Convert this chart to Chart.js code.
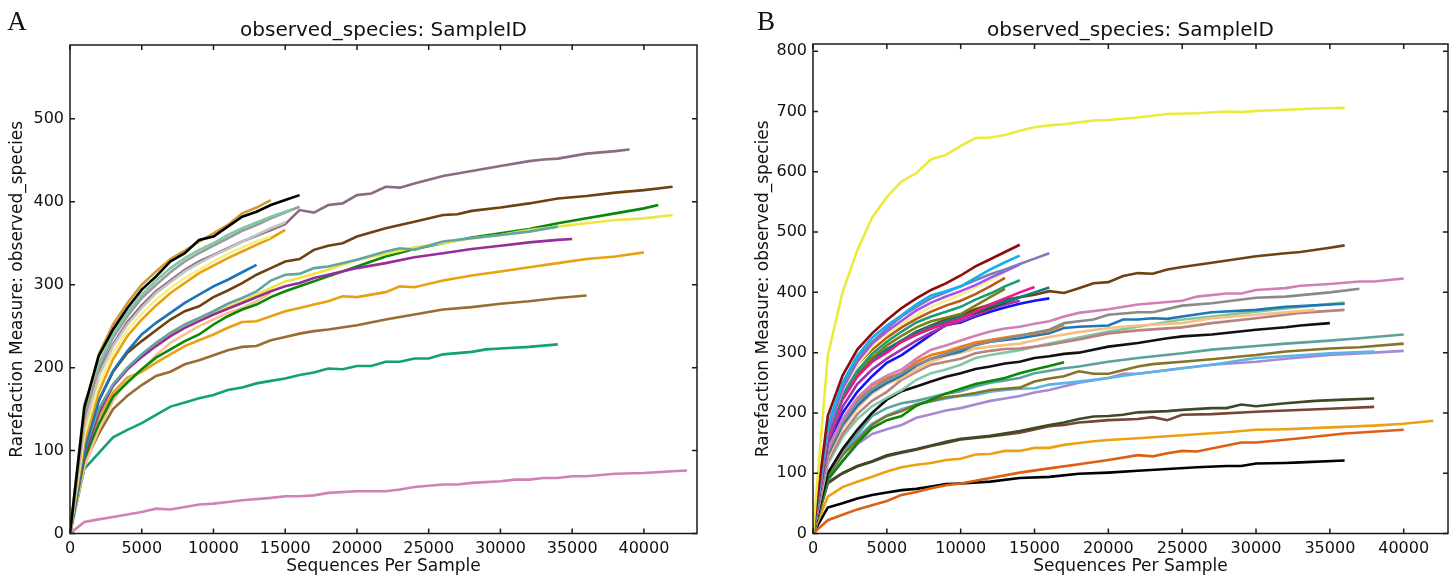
<!DOCTYPE html>
<html>
<head>
<meta charset="utf-8">
<script src="https://cdn.jsdelivr.net/npm/chart.js@4.4.1/dist/chart.umd.min.js"></script>
<style>
    html, body { margin: 0; padding: 0; background: #fff; }
    body { width: 1455px; height: 577px; position: relative; overflow: hidden; }
    .panel { position: absolute; top: 0; height: 577px; }
    #wrapA { left: 0; width: 727px; }
    #wrapB { left: 745px; width: 710px; }
</style>
</head>
<body>
<div class="panel" id="wrapA"><canvas id="chartA" width="727" height="577"></canvas></div>
<div class="panel" id="wrapB"><canvas id="chartB" width="710" height="577"></canvas></div>
<script>
// texts
const chartTitle = 'observed_species: SampleID';
const xLabel = 'Sequences Per Sample';
const yLabel = 'Rarefaction Measure: observed_species';

// tick values
const xTicks = [0, 5000, 10000, 15000, 20000, 25000, 30000, 35000, 40000];
const yTicksA = [0, 100, 200, 300, 400, 500];
const yTicksB = [0, 100, 200, 300, 400, 500, 600, 700, 800];

// each point: [sequences per sample in thousands, observed species]

// ---- panel A ----
const a_black = [[0,0],[1,152],[2,214],[3,246],[4,272],[5,294],[6,310],[7,328],[8,338],[9,354],[10,358],[11,370],[12,382],[13,388],[14,396],[15,402],[16,408]];
const a_gold = [[0,0],[1,148],[2,216],[3,252],[4,278],[5,300],[6,316],[7,331],[8,341],[9,352],[10,362],[11,372],[12,386],[13,393],[14,402]];
const a_aqua = [[0,0],[1,156],[2,205],[3,240],[4,266],[5,288],[6,305],[7,320],[8,332],[9,342],[10,350],[11,360],[12,368],[13,375],[14,382],[15,388],[15.5,391]];
const a_gray = [[0,0],[1,140],[2,200],[3,236],[4,262],[5,284],[6,300],[7,315],[8,328],[9,338],[10,347],[11,356],[12,365],[13,372],[14,380],[15,387],[16,394]];
const a_lightgray = [[0,0],[1,128],[2,190],[3,226],[4,252],[5,272],[6,290],[7,303],[8,316],[9,326],[10,335],[11,343],[12,352],[13,360],[14,368],[15,375]];
const a_mauve = [[0,0],[1,135],[2,195],[3,228],[4,255],[5,275],[6,292],[7,305],[8,318],[9,328],[10,336],[11,344],[12,352],[13,359],[14,366],[15,373],[16,390],[17,387],[18,396],[19,398],[20,408],[21,410],[22,418],[23,417],[24,422],[26,431],[28,437],[30,443],[32,449],[33,451],[34,452],[36,458],[38,461],[39,463]];
const a_paleyellow = [[0,0],[1,118],[2,180],[3,218],[4,245],[5,265],[6,282],[7,296],[8,308],[9,318],[10,328],[11,337],[12,345],[13,352],[14,358]];
const a_orange1 = [[0,0],[1,110],[2,170],[3,210],[4,238],[5,258],[6,275],[7,290],[8,302],[9,314],[10,323],[11,332],[12,340],[13,348],[14,356],[15,366]];
const a_blue = [[0,0],[1,100],[2,160],[3,196],[4,220],[5,240],[6,254],[7,266],[8,278],[9,288],[10,298],[11,306],[12,315],[13,324]];
const a_darkbrown = [[0,0],[1,105],[2,160],[3,195],[4,218],[5,232],[6,245],[7,258],[8,268],[9,274],[10,285],[11,293],[12,302],[13,312],[14,320],[15,328],[16,331],[17,342],[18,347],[19,350],[20,358],[22,368],[24,376],[26,384],[27,385],[28,389],[30,393],[32,398],[34,404],[36,407],[38,411],[40,414],[42,418]];
const a_cadet = [[0,0],[1,100],[2,150],[3,180],[4,200],[5,216],[6,230],[7,242],[8,252],[9,260],[10,268],[11,277],[12,284],[13,292],[14,305],[15,312],[16,313],[17,320],[18,322],[20,330],[22,340],[23,344],[24,342],[26,352],[28,356],[30,360],[32,364],[34,370]];
const a_purple = [[0,0],[1,95],[2,145],[3,178],[4,198],[5,213],[6,226],[7,238],[8,248],[9,256],[10,264],[12,278],[14,292],[15,298],[16,302],[17,308],[18,312],[20,320],[22,326],[24,333],[26,338],[28,343],[30,347],[32,351],[34,354],[35,355]];
const a_yellow = [[0,0],[1,100],[2,150],[3,180],[4,200],[5,215],[6,230],[7,240],[8,250],[9,258],[10,266],[12,280],[14,296],[15,304],[16,308],[18,318],[20,330],[22,337],[24,345],[26,350],[28,356],[30,360],[32,366],[34,370],[36,374],[38,378],[40,380],[42,384]];
const a_green = [[0,0],[1,90],[2,132],[3,165],[4,182],[5,198],[6,212],[7,222],[8,232],[9,240],[10,252],[11,262],[12,270],[13,276],[14,285],[15,292],[16,298],[18,310],[20,322],[22,334],[24,343],[26,350],[28,357],[30,362],[32,367],[34,374],[36,380],[38,386],[40,392],[41,396]];
const a_peach = [[0,0],[1,80],[2,125],[3,160],[4,185],[5,197],[6,215],[7,230],[8,240],[9,250],[10,258],[11,266],[12,272],[13,280],[14,290]];
const a_orange2 = [[0,0],[1,95],[2,140],[3,170],[4,188],[5,195],[6,206],[7,216],[8,226],[9,233],[10,240],[11,248],[12,255],[13,256],[14,262],[15,268],[16,272],[17,276],[18,280],[19,286],[20,285],[22,291],[23,298],[24,297],[26,305],[28,311],[30,316],[32,321],[34,326],[36,331],[38,334],[40,339]];
const a_tan = [[0,0],[1,85],[2,120],[3,150],[4,166],[5,179],[6,190],[7,195],[8,204],[9,209],[10,215],[11,221],[12,225],[13,226],[14,233],[15,237],[16,241],[17,244],[18,246],[20,251],[22,258],[24,264],[26,270],[28,273],[30,277],[32,280],[34,284],[36,287]];
const a_teal = [[0,0],[1,78],[2,97],[3,116],[4,125],[5,133],[6,143],[7,153],[8,158],[9,163],[10,167],[11,173],[12,176],[13,181],[14,184],[15,187],[16,191],[17,194],[18,199],[19,198],[20,202],[21,202],[22,207],[23,207],[24,211],[25,211],[26,216],[28,219],[29,222],[30,223],[32,225],[34,228]];
const a_pink = [[0,0],[1,14],[2,17],[3,20],[4,23],[5,26],[6,30],[7,29],[8,32],[9,35],[10,36],[11,38],[12,40],[14,43],[15,45],[16,45],[17,46],[18,49],[20,51],[22,51],[23,53],[24,56],[26,59],[27,59],[28,61],[30,63],[31,65],[32,65],[33,67],[34,67],[35,69],[36,69],[38,72],[40,73],[42,75],[43,76]];

const seriesA = [a_black, a_gold, a_aqua, a_gray, a_lightgray, a_mauve, a_paleyellow, a_orange1, a_blue, a_darkbrown,
                 a_cadet, a_purple, a_yellow, a_green, a_peach, a_orange2, a_tan, a_teal, a_pink];
const coloursA = ['#000000', '#d09a35', '#80c8a2', '#9a9a9a', '#c4c4c4', '#8c6a84', '#f6f08a', '#e8a010', '#1a74b6', '#6e4210',
                  '#5fa5a3', '#982c98', '#eee640', '#0a870a', '#f6c28c', '#e9a012', '#9a6b35', '#12a079', '#d281b4'];

// ---- panel B ----
const b_yellow = [[0,0],[1,295],[2,400],[3,470],[4,524],[5,558],[6,584],[7,598],[8,621],[9,628],[10,643],[11,656],[12,657],[13,661],[14,668],[15,674],[16,677],[17,679],[18,682],[19,685],[20,686],[22,690],[24,696],[26,697],[28,700],[29,699],[30,701],[32,703],[34,705],[36,706]];
const b_darkred = [[0,0],[1,195],[2,262],[3,305],[4,332],[5,354],[6,374],[7,390],[8,404],[9,415],[10,428],[11,443],[12,455],[13,467],[14,479]];
const b_skyblue = [[0,0],[1,180],[2,250],[3,295],[4,325],[5,345],[6,362],[7,380],[8,395],[9,402],[10,410],[11,424],[12,438],[13,450],[14,461]];
const b_slate = [[0,0],[1,175],[2,245],[3,290],[4,318],[5,340],[6,360],[7,376],[8,390],[9,400],[10,410],[11,420],[12,430],[13,438],[14,447],[15,456],[16,465]];
const b_violet = [[0,0],[1,170],[2,240],[3,285],[4,315],[5,335],[6,353],[7,370],[8,383],[9,393],[10,402],[11,412],[12,424],[13,435],[14,446]];
const b_khaki = [[0,0],[1,172],[2,238],[3,280],[4,310],[5,330],[6,348],[7,362],[8,376],[9,386],[10,396],[11,408],[12,420],[13,433]];
const b_chocolate = [[0,0],[1,178],[2,240],[3,280],[4,305],[5,325],[6,342],[7,356],[8,368],[9,378],[10,386],[11,397],[12,410],[13,424]];
const b_teal = [[0,0],[1,165],[2,230],[3,270],[4,298],[5,318],[6,335],[7,350],[8,360],[9,368],[10,376],[11,388],[12,398],[13,410],[14,420]];
const b_olive = [[0,0],[1,168],[2,232],[3,268],[4,292],[5,312],[6,328],[7,342],[8,352],[9,358],[10,364],[11,378],[12,392],[13,406]];
const b_deeppink = [[0,0],[1,160],[2,222],[3,260],[4,285],[5,300],[6,318],[7,330],[8,340],[9,348],[10,356],[11,368],[12,380],[13,390],[14,400],[15,409]];
const b_darkteal = [[0,0],[1,162],[2,225],[3,262],[4,288],[5,306],[6,320],[7,334],[8,344],[9,352],[10,360],[11,368],[12,378],[13,385],[14,392],[15,400],[16,408]];
const b_darkgreen = [[0,0],[1,170],[2,230],[3,265],[4,290],[5,305],[6,318],[7,330],[8,340],[9,350],[10,358],[11,366],[12,374],[13,383],[14,392]];
const b_magenta = [[0,0],[1,150],[2,210],[3,248],[4,272],[5,290],[6,305],[7,320],[8,333],[9,345],[10,352],[11,362],[12,372],[13,380],[14,386]];
const b_blue = [[0,0],[1,150],[2,200],[3,235],[4,261],[5,283],[6,296],[7,313],[8,330],[9,346],[10,350],[11,360],[12,368],[13,375],[14,381],[15,386],[16,390]];
const b_brown = [[0,0],[1,165],[2,225],[3,262],[4,285],[5,305],[6,320],[7,335],[8,345],[9,355],[10,362],[11,372],[12,380],[13,388],[14,392],[15,396],[16,402],[17,399],[18,407],[19,415],[20,417],[21,427],[22,432],[23,431],[24,438],[25,442],[27,449],[30,460],[32,465],[33,467],[35,474],[36,478]];
const b_pink = [[0,0],[1,140],[2,190],[3,225],[4,248],[5,262],[6,272],[7,290],[8,305],[9,312],[10,320],[11,328],[12,335],[13,340],[14,343],[15,348],[16,352],[17,360],[18,366],[20,372],[22,380],[24,384],[25,386],[26,393],[28,398],[29,398],[30,404],[32,407],[33,411],[35,414],[37,418],[38,418],[40,423]];
const b_gray = [[0,0],[1,135],[2,185],[3,218],[4,240],[5,255],[6,266],[7,280],[8,290],[9,298],[10,306],[12,318],[14,328],[16,338],[17,349],[18,352],[19,355],[20,363],[22,367],[23,367],[25,378],[27,382],[30,391],[32,393],[35,400],[37,406]];
const b_orange2 = [[0,0],[1,135],[2,188],[3,222],[4,246],[5,258],[6,266],[7,285],[8,296],[9,302],[10,310],[11,317],[12,321],[13,325],[14,329],[15,332],[16,336],[17,346]];
const b_blue2 = [[0,0],[1,130],[2,180],[3,212],[4,235],[5,250],[6,262],[7,278],[8,290],[9,296],[10,302],[11,313],[12,318],[13,321],[14,324],[15,328],[16,332],[17,341],[18,343],[20,345],[21,355],[22,355],[23,357],[24,356],[25,360],[27,367],[30,371],[32,376],[35,380],[36,381]];
const b_peach = [[0,0],[1,125],[2,175],[3,208],[4,232],[5,248],[6,258],[7,272],[8,285],[9,294],[10,300],[11,307],[12,310],[14,315],[16,326],[18,334],[20,341],[22,345],[25,349],[27,357],[30,363],[32,367],[34,371]];
const b_rosy = [[0,0],[1,120],[2,165],[3,198],[4,220],[5,235],[6,255],[7,268],[8,280],[9,285],[10,290],[11,299],[12,303],[13,306],[14,307],[16,313],[18,322],[20,332],[22,337],[25,342],[27,349],[30,357],[33,366],[36,371]];
const b_lightgreen = [[0,0],[1,115],[2,160],[3,190],[4,211],[5,225],[6,238],[7,255],[8,266],[9,272],[10,280],[11,291],[12,296],[13,300],[14,304],[16,315],[18,325],[20,335],[22,343],[25,355],[27,360],[30,368],[33,376],[36,383]];
const b_black1 = [[0,0],[1,100],[2,140],[3,172],[4,200],[5,222],[6,236],[7,244],[8,252],[9,260],[10,266],[11,273],[12,277],[13,282],[14,285],[15,291],[16,294],[17,298],[18,300],[20,310],[22,316],[24,324],[25,327],[27,330],[30,338],[32,342],[33,345],[35,349]];
const b_green = [[0,0],[1,90],[2,120],[3,150],[4,175],[5,188],[6,195],[7,212],[8,222],[9,232],[10,240],[11,248],[12,253],[13,258],[14,266],[15,272],[16,278],[17,284]];
const b_cadet = [[0,0],[1,100],[2,135],[3,165],[4,195],[5,208],[6,216],[7,220],[8,226],[9,232],[10,236],[11,244],[12,250],[13,254],[14,258],[15,266],[16,270],[17,274],[18,277],[20,285],[22,291],[25,299],[27,305],[30,311],[32,315],[35,320],[37,324],[40,330]];
const b_olivebrown = [[0,0],[1,95],[2,130],[3,155],[4,180],[5,195],[6,203],[7,214],[8,220],[9,226],[10,229],[11,233],[12,238],[13,240],[14,242],[15,252],[16,257],[17,261],[18,269],[19,265],[20,265],[22,277],[23,281],[25,285],[27,289],[30,296],[32,302],[35,307],[37,309],[40,315]];
const b_lightblue = [[0,0],[1,95],[2,130],[3,160],[4,182],[5,196],[6,206],[7,214],[8,219],[9,224],[10,228],[11,230],[12,235],[13,238],[14,240],[15,241],[16,247],[18,252],[20,258],[22,265],[25,274],[27,280],[30,291],[32,294],[35,299],[38,302]];
const b_lavender = [[0,0],[1,88],[2,120],[3,148],[4,165],[5,173],[6,180],[7,192],[8,198],[9,204],[10,208],[11,214],[12,220],[13,224],[14,228],[15,234],[16,238],[18,250],[20,258],[21,265],[22,265],[25,274],[27,280],[30,285],[32,290],[35,296],[38,300],[40,303]];
const b_darkolive = [[0,0],[1,85],[2,100],[3,112],[4,120],[5,130],[6,135],[7,140],[8,146],[9,152],[10,157],[12,162],[14,170],[16,180],[17,184],[18,190],[19,194],[20,195],[21,197],[22,201],[24,203],[25,205],[27,208],[28,208],[29,214],[30,211],[32,216],[34,220],[36,222],[38,224]];
const b_sienna = [[0,0],[1,83],[2,100],[3,111],[4,119],[5,128],[6,134],[7,139],[8,145],[9,150],[10,156],[12,161],[14,167],[16,178],[17,180],[18,184],[19,186],[20,188],[22,190],[23,193],[24,188],[25,197],[27,198],[30,202],[32,204],[35,207],[38,210]];
const b_orange = [[0,0],[1,61],[2,77],[3,86],[4,94],[5,103],[6,110],[7,114],[8,117],[9,122],[10,124],[11,131],[12,132],[13,137],[14,137],[15,142],[16,142],[17,147],[18,150],[19,153],[20,155],[22,158],[25,163],[28,168],[30,172],[32,173],[35,176],[38,179],[40,182],[42,187]];
const b_darkorange = [[0,0],[1,22],[2,31],[3,40],[4,47],[5,54],[6,64],[7,69],[8,75],[9,80],[10,83],[12,92],[14,101],[16,108],[18,115],[20,122],[22,130],[23,128],[24,133],[25,137],[26,136],[27,141],[28,146],[29,151],[30,151],[33,158],[36,166],[40,172]];
const b_black2 = [[0,0],[1,43],[2,50],[3,58],[4,64],[5,68],[6,72],[7,74],[8,78],[9,82],[10,83],[12,86],[14,92],[16,94],[18,99],[20,101],[22,104],[24,107],[26,110],[28,112],[29,112],[30,116],[32,117],[33,118],[36,121]];

const seriesB = [b_yellow, b_darkred, b_skyblue, b_slate, b_violet, b_khaki, b_chocolate, b_teal, b_olive, b_deeppink,
                 b_darkteal, b_darkgreen, b_magenta, b_blue, b_brown, b_pink, b_gray, b_orange2, b_blue2, b_peach,
                 b_rosy, b_lightgreen, b_black1, b_green, b_cadet, b_olivebrown, b_lightblue, b_lavender,
                 b_darkolive, b_sienna, b_orange, b_darkorange, b_black2];
const coloursB = ['#ecea3c', '#8c0c0c', '#12b0ee', '#7a7eb6', '#a052f6', '#f6ef92', '#ba5a10', '#1b9b7b', '#7e7e12', '#f0168c',
                  '#0b8080', '#3a4f1c', '#a032b0', '#1212ff', '#6c4212', '#d080b6', '#8a8a8a', '#f57a12', '#1f77b4', '#fcbf82',
                  '#b88282', '#82c8a2', '#111111', '#0a880a', '#5aa39c', '#857428', '#5ab4e8', '#a68ad6',
                  '#3d4a25', '#754634', '#eda012', '#dd6012', '#000000'];


// box with inward ticks, title and panel letter
const frameTicks = {
    id: 'frameTicks',
    afterDraw(chart, args, opts) {
        const { ctx, chartArea: a, scales: { x, y } } = chart;
        ctx.save();
        ctx.strokeStyle = '#1a1a1a';
        ctx.lineWidth = 1.5;
        ctx.strokeRect(a.left, a.top, a.right - a.left, a.bottom - a.top);
        ctx.beginPath();
        x.ticks.forEach(t => {
            const px = x.getPixelForValue(t.value);
            ctx.moveTo(px, a.bottom); ctx.lineTo(px, a.bottom - 5);
            ctx.moveTo(px, a.top); ctx.lineTo(px, a.top + 5);
        });
        y.ticks.forEach(t => {
            const py = y.getPixelForValue(t.value);
            ctx.moveTo(a.left, py); ctx.lineTo(a.left + 5, py);
            ctx.moveTo(a.right, py); ctx.lineTo(a.right - 5, py);
        });
        ctx.stroke();

        ctx.fillStyle = '#111';
        ctx.textAlign = 'center';
        ctx.textBaseline = 'middle';
        ctx.font = '20px "DejaVu Sans"';
        ctx.fillText(opts.title, (a.left + a.right) / 2, 31);
        ctx.font = '27px "Liberation Serif"';
        ctx.fillText(opts.letter, opts.letterX, 23);
        ctx.restore();
    }
};

function makeDatasets(series, colours) {
    return series.map((pts, i) => ({
        data: pts.map(p => ({ x: p[0] * 1000, y: p[1] })),
        showLine: true,
        borderColor: colours[i],
        borderWidth: 2.6,
        pointRadius: 0,
        tension: 0,
        fill: false
    }));
}

function buildChart(id, datasets, cfg) {
    const tickFont = { family: 'DejaVu Sans', size: 16 };
    const labelFont = { family: 'DejaVu Sans', size: 17 };
    return new Chart(document.getElementById(id), {
        type: 'scatter',
        data: { datasets: datasets },
        options: {
            responsive: false,
            animation: false,
            devicePixelRatio: 1,
            layout: { padding: { left: 0, right: cfg.padRight, top: cfg.top, bottom: 0 } },
            plugins: {
                legend: { display: false },
                tooltip: { enabled: false },
                frameTicks: { title: chartTitle, letter: cfg.letter, letterX: cfg.letterX }
            },
            scales: {
                x: {
                    type: 'linear', min: 0, max: cfg.xMax,
                    grid: { display: false, drawTicks: false }, border: { display: false },
                    afterBuildTicks: s => { s.ticks = xTicks.map(v => ({ value: v })); },
                    ticks: { autoSkip: false, maxRotation: 0, padding: 6,
                             font: tickFont, color: '#111', callback: v => String(v) },
                    title: { display: true, text: xLabel, font: labelFont, color: '#111', padding: { top: 0, bottom: 0 } },
                    afterFit: s => { s.height = cfg.xAxisH; }
                },
                y: {
                    type: 'linear', min: 0, max: cfg.yMax,
                    grid: { display: false, drawTicks: false }, border: { display: false },
                    afterBuildTicks: s => { s.ticks = cfg.yTicks.map(v => ({ value: v })); },
                    ticks: { autoSkip: false, padding: 6,
                             font: tickFont, color: '#111', callback: v => String(v) },
                    title: { display: true, text: yLabel, font: labelFont, color: '#111', padding: { top: cfg.yTitlePad, bottom: 0 } },
                    afterFit: s => { s.width = cfg.yAxisW; }
                }
            }
        },
        plugins: [frameTicks]
    });
}

buildChart('chartA', makeDatasets(seriesA, coloursA),
    { xMax: 43700, yMax: 589, yTicks: yTicksA, top: 45, padRight: 30, xAxisH: 43.5, yAxisW: 70, yTitlePad: 7, letter: 'A', letterX: 17 });
buildChart('chartB', makeDatasets(seriesB, coloursB),
    { xMax: 43000, yMax: 812, yTicks: yTicksB, top: 44, padRight: 7, xAxisH: 43.5, yAxisW: 68, yTitlePad: 8, letter: 'B', letterX: 21 });
</script>
</body>
</html>
